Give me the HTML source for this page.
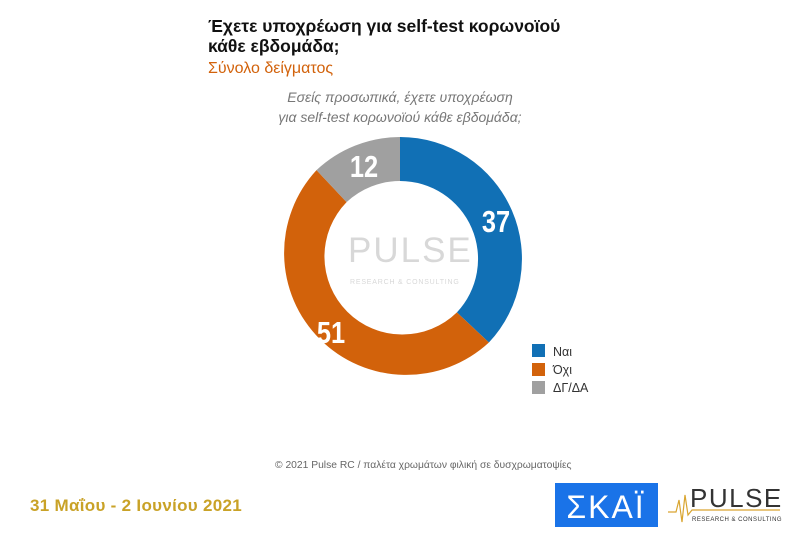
<!DOCTYPE html>
<html><head><meta charset="utf-8"><style>
body{margin:0;width:800px;height:533px;background:#fff;position:relative;overflow:hidden;font-family:"Liberation Sans",sans-serif}
.a{position:absolute;white-space:nowrap}
</style></head><body>
<div class="a" style="left:208px;top:16px;font-size:17.5px;font-weight:bold;line-height:20px;color:#111">Έχετε υποχρέωση για self-test κορωνοϊού<br>κάθε εβδομάδα;</div>
<div class="a" style="left:208px;top:60px;font-size:16px;color:#D2620B">Σύνολο δείγματος</div>
<div class="a" style="left:250px;top:87px;width:300px;text-align:center;font-size:14px;font-style:italic;line-height:20px;color:#777">Εσείς προσωπικά, έχετε υποχρέωση<br>για self-test κορωνοϊού κάθε εβδομάδα;</div>
<svg class="a" style="left:0;top:0" width="800" height="533">
<path d="M400 137 A122 122 0 0 1 488.9 342.5 L456.9 312.4 A78 78 0 0 0 400 181 Z" fill="#1170B5"/>
<path d="M488.9 342.5 A122 122 0 0 1 316.5 170.1 L346.6 202.1 A78 78 0 0 0 456.9 312.4 Z" fill="#D2620B"/>
<path d="M316.5 170.1 A122 122 0 0 1 400 137 L400 181 A78 78 0 0 0 346.6 202.1 Z" fill="#A0A0A0"/>
<g font-weight="bold" font-size="31" fill="#fff" text-anchor="middle">
<text x="496" y="232" transform="translate(496 0) scale(0.82 1) translate(-496 0)">37</text>
<text x="331" y="343" transform="translate(331 0) scale(0.82 1) translate(-331 0)">51</text>
<text x="364" y="177" transform="translate(364 0) scale(0.82 1) translate(-364 0)">12</text>
</g>
<text x="348" y="262" font-size="35" fill="#d8d8d8" letter-spacing="2">PULSE</text>
<text x="350" y="284" font-size="7" fill="#d8d8d8" letter-spacing="0.8">RESEARCH &amp; CONSULTING</text>
<rect x="532" y="344" width="13" height="13" fill="#1170B5"/>
<rect x="532" y="363" width="13" height="13" fill="#D2620B"/>
<rect x="532" y="381" width="13" height="13" fill="#A0A0A0"/>
<g font-size="12.5" fill="#333"><text x="553" y="356">Ναι</text><text x="553" y="374">Όχι</text><text x="553" y="392">ΔΓ/ΔΑ</text></g>
<text x="275" y="468" font-size="10.3" fill="#666">© 2021 Pulse RC  /  παλέτα χρωμάτων φιλική σε δυσχρωματοψίες</text>
<text x="30" y="511" font-size="17" font-weight="bold" fill="#C9A227" letter-spacing="0.3">31 Μαΐου - 2 Ιουνίου 2021</text>
<rect x="555" y="483" width="103" height="44" fill="#1A73E8"/>
<text x="606" y="518" font-size="32" fill="#fff" text-anchor="middle" letter-spacing="2">ΣΚΑΪ</text>
<polyline points="668,512 676,512 679,500 682,522 685,495 688,515 692,510 780,510" fill="none" stroke="#D9A530" stroke-width="1.2"/>
<text x="690" y="507" font-size="26" fill="#333" letter-spacing="1.5">PULSE</text>
<text x="692" y="521" font-size="6" fill="#333" letter-spacing="0.5">RESEARCH &amp; CONSULTING</text>
</svg>
</body></html>
